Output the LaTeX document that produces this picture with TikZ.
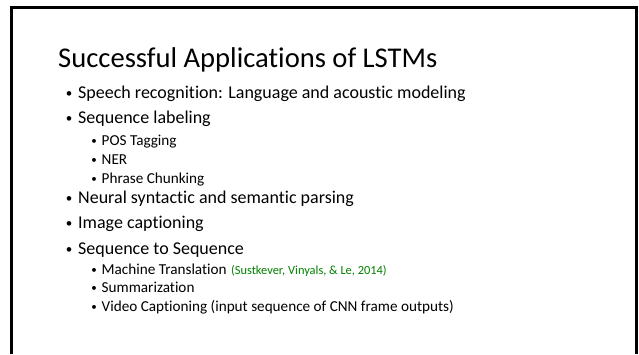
\documentclass[tikz,border=0pt]{standalone}
\usepackage{fontspec}
\setmainfont{Carlito}[Ligatures=NoCommon]
\definecolor{citegreen}{RGB}{0,128,0}
\tikzset{
  titletext/.style={anchor=base west, inner sep=0pt, font=\fontsize{28.6}{32}\selectfont},
  lvlone/.style={anchor=base west, inner sep=0pt, font=\fontsize{18}{20}\selectfont},
  lvltwo/.style={anchor=base west, inner sep=0pt, font=\fontsize{15.2}{17}\selectfont},
  bulone/.style={anchor=base, inner sep=0pt, font=\fontsize{13}{16}\selectfont},
  bultwo/.style={anchor=base, inner sep=0pt, font=\fontsize{11}{14}\selectfont},
  cite/.style={anchor=base west, inner sep=0pt, text=citegreen, font=\fontsize{12.4}{14}\selectfont},
  frameline/.style={line width=3pt, black}
}
\begin{document}
\begin{tikzpicture}[x=1pt, y=-1pt]
\useasboundingbox (0,0) rectangle (639,354);
\coordinate (fbl) at (11.5,354);
\coordinate (ftl) at (11.5,7.5);
\coordinate (ftr) at (636.5,7.5);
\coordinate (fbr) at (636.5,354);
\draw[frameline] (fbl) -- (ftl) -- (ftr) -- (fbr);

\node[titletext] (title) at (58,67) {Successful Applications of LSTMs};

% level 1 items
\node[bulone] (b1) at (69,97) {•};
\node[lvlone] (t1) at (78,98) {Speech recognition: Language and acoustic modeling};
\node[bulone] (b2) at (69,122.5) {•};
\node[lvlone] (t2) at (78,123.5) {Sequence labeling};
\node[bultwo] (b21) at (94,144.2) {•};
\node[lvltwo] (t21) at (101.5,145) {POS Tagging};
\node[bultwo] (b22) at (94,163.2) {•};
\node[lvltwo] (t22) at (101.5,164) {NER};
\node[bultwo] (b23) at (94,182.2) {•};
\node[lvltwo] (t23) at (101.5,183) {Phrase Chunking};
\node[bulone] (b3) at (69,202) {•};
\node[lvlone] (t3) at (78,203) {Neural syntactic and semantic parsing};
\node[bulone] (b4) at (69,227.5) {•};
\node[lvlone] (t4) at (78,228.5) {Image captioning};
\node[bulone] (b5) at (69,253) {•};
\node[lvlone] (t5) at (78,254) {Sequence to Sequence};
\node[bultwo] (b51) at (94,273.2) {•};
\node[lvltwo] (t51) at (101.5,274) {Machine Translation};
\node[cite] (c51) at ([xshift=4pt]t51.base east) {(Sustkever, Vinyals, \& Le, 2014)};
\node[bultwo] (b52) at (94,291.7) {•};
\node[lvltwo] (t52) at (101.5,292.5) {Summarization};
\node[bultwo] (b53) at (94,310.2) {•};
\node[lvltwo] (t53) at (101.5,311) {Video Captioning (input sequence of CNN frame outputs)};
\end{tikzpicture}
\end{document}
